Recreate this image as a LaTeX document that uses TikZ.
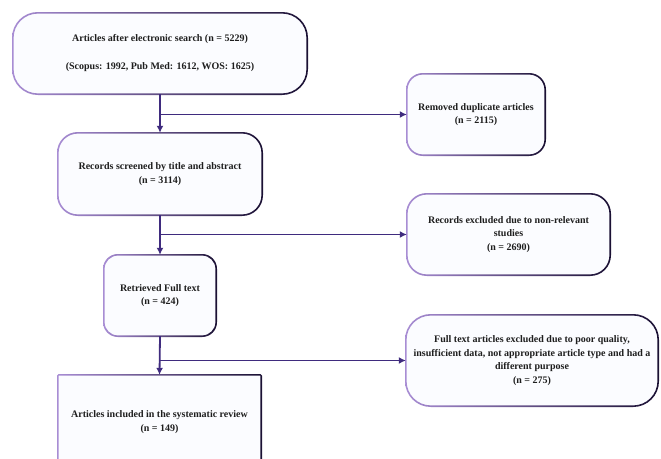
\documentclass[tikz,border=0pt]{standalone}
\usepackage{fontspec}
\setmainfont{Liberation Serif}
\usetikzlibrary{arrows.meta}
\definecolor{bl}{HTML}{A88DD4}
\definecolor{bm}{HTML}{5A3E9C}
\definecolor{br}{HTML}{1A1033}
\definecolor{boxfill}{HTML}{FBFCFF}
\definecolor{arrc}{HTML}{3F2B7E}
\definecolor{txt}{HTML}{1E1E1E}
\newcommand\gring[2]{%
  \shade[left color=bl, middle color=bm, right color=br, even odd rule]
    [rounded corners=#2+0.8pt] ([xshift=-0.8pt,yshift=0.8pt]#1.north west) rectangle ([xshift=0.8pt,yshift=-0.8pt]#1.south east)
    [rounded corners=#2-0.8pt] ([xshift=0.8pt,yshift=-0.8pt]#1.north west) rectangle ([xshift=-0.8pt,yshift=0.8pt]#1.south east);
}
\tikzset{
  box/.style={draw=none, fill=boxfill, align=center, inner sep=0pt,
    font=\bfseries\fontsize{10}{13.5}\selectfont, text=txt},
  arr/.style={draw=arrc, line width=1.8pt, -{Latex[length=7pt,width=7pt]}},
}
\begin{document}
\begin{tikzpicture}[x=1pt,y=-1pt]
\useasboundingbox (0,0) rectangle (661,458);
\clip (0,0) rectangle (661,458);
\node[box, rounded corners=25pt, minimum width=294pt, minimum height=81pt] (b1) at (160,53.5)
  {Articles after electronic search (n = 5229)\\[14.5pt](Scopus: 1992, Pub Med: 1612, WOS: 1625)};
\node[box, rounded corners=16pt, minimum width=138pt, minimum height=81pt] (b2) at (476,114.5)
  {Removed duplicate articles\\(n = 2115)};
\node[box, rounded corners=20pt, minimum width=204pt, minimum height=82pt] (b3) at (160,174)
  {Records screened by title and abstract\\(n = 3114)};
\node[box, rounded corners=20pt, minimum width=203pt, minimum height=81pt] (b4) at (508.5,234.5)
  {Records excluded due to non-relevant\\studies\\(n = 2690)};
\node[box, rounded corners=14pt, minimum width=112pt, minimum height=81pt] (b5) at (160,295.5)
  {Retrieved Full text\\(n = 424)};
\node[box, rounded corners=25pt, minimum width=252pt, minimum height=91pt] (b6) at (532,360.5)
  {Full text articles excluded due to poor quality,\\insufficient data, not appropriate article type and had a\\different purpose\\(n = 275)};
\node[box, minimum width=203pt, minimum height=94pt] (b7) at (159.5,422)
  {Articles included in the systematic review\\(n = 149)};
\gring{b1}{25pt}
\gring{b2}{16pt}
\gring{b3}{20pt}
\gring{b4}{20pt}
\gring{b5}{14pt}
\gring{b6}{25pt}
\gring{b7}{0.8pt}
\draw[arr] (b1.south) -- (b3.north);
\draw[arr] (b1.south |- b2.west) -- (b2.west);
\draw[arr] (b3.south) -- (b5.north);
\draw[arr] (b3.south |- b4.west) -- (b4.west);
\draw[arr] (b5.south) -- (b7.north);
\draw[arr] (b5.south |- b6.west) -- (b6.west);
\end{tikzpicture}
\end{document}
